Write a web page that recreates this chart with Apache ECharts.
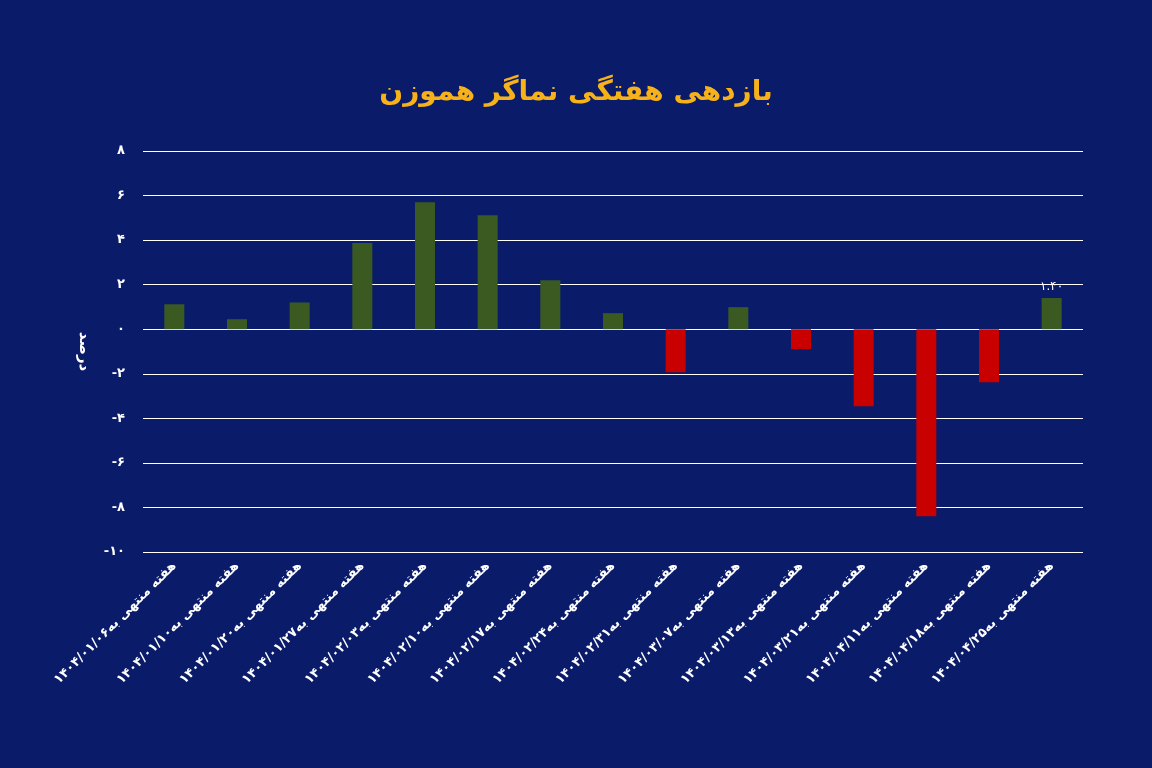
<!DOCTYPE html>
<html><head><meta charset="utf-8">
<script src="https://cdn.jsdelivr.net/npm/echarts@6/dist/echarts.min.js"></script>
<style>html,body{margin:0;padding:0;background:#0a1b6a;}#c{width:1152px;height:768px;}</style>
</head><body><div id="c"></div>
<script>
const categories = ["هفته منتهی به۱۴۰۴/۰۱/۰۶","هفته منتهی به۱۴۰۴/۰۱/۱۰","هفته منتهی به۱۴۰۴/۰۱/۲۰","هفته منتهی به۱۴۰۴/۰۱/۲۷","هفته منتهی به۱۴۰۴/۰۲/۰۳","هفته منتهی به۱۴۰۴/۰۲/۱۰","هفته منتهی به۱۴۰۴/۰۲/۱۷","هفته منتهی به۱۴۰۴/۰۲/۲۴","هفته منتهی به۱۴۰۴/۰۲/۳۱","هفته منتهی به۱۴۰۴/۰۳/۰۷","هفته منتهی به۱۴۰۴/۰۳/۱۳","هفته منتهی به۱۴۰۴/۰۳/۲۱","هفته منتهی به۱۴۰۴/۰۴/۱۱","هفته منتهی به۱۴۰۴/۰۴/۱۸","هفته منتهی به۱۴۰۴/۰۴/۲۵"];
const values = [1.12,0.45,1.2,3.87,5.7,5.12,2.2,0.72,-1.93,0.99,-0.9,-3.46,-8.4,-2.38,1.40];
const yTickLabels = {"8":"۸","6":"۶","4":"۴","2":"۲","0":"۰","-2":"-۲","-4":"-۴","-6":"-۶","-8":"-۸","-10":"-۱۰"};
const labelledIndex = 14;
const fa = s => String(s).replace(/\d/g, d => "۰۱۲۳۴۵۶۷۸۹"[d]);
const font = "DejaVu Sans";
const chart = echarts.init(document.getElementById('c'));
chart.setOption({
  backgroundColor: '#0a1b6a',
  title: {text: 'بازدهی هفتگی نماگر هموزن', left: 'center', top: 74,
    textStyle: {color: '#f7b21a', fontSize: 28, fontWeight: 'bold', fontFamily: font}},
  grid: {left: 143, right: 69, top: 151, bottom: 216},
  xAxis: {type: 'category', data: categories,
    axisLine: {show: false}, axisTick: {show: false},
    axisLabel: {rotate: 45, color: '#fff', fontSize: 13, fontWeight: 'bold', fontFamily: font, margin: 12, interval: 0}},
  yAxis: {type: 'value', min: -10, max: 8, interval: 2,
    name: 'درصد', nameLocation: 'middle', nameGap: 52, nameRotate: -90,
    nameTextStyle: {color: '#fff', fontSize: 15, fontWeight: 'bold', fontFamily: font},
    axisLabel: {color: '#fff', fontSize: 13, fontWeight: 'bold', fontFamily: font, margin: 18,
      formatter: v => yTickLabels[String(v)] ?? fa(v)},
    splitLine: {lineStyle: {color: '#ffffff', width: 1}}},
  series: [{type: 'bar', barWidth: 20,
    data: values.map((v, i) => ({value: v,
      itemStyle: {color: v >= 0 ? '#3b5a22' : '#c80000'},
      label: {show: i === labelledIndex, position: 'top', color: '#fff', fontSize: 12, fontFamily: font,
        formatter: p => fa(p.value.toFixed(2))}}))}]
});
</script></body></html>
